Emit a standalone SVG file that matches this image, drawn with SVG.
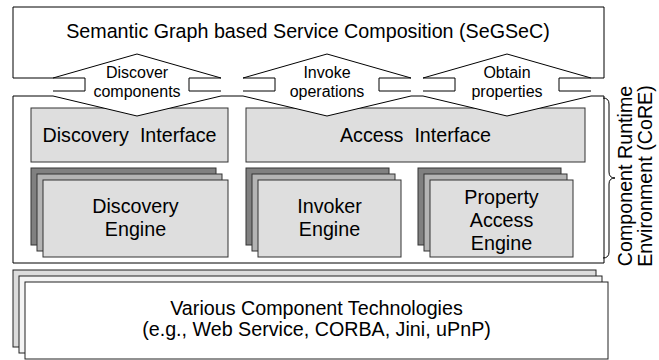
<svg xmlns="http://www.w3.org/2000/svg" width="659" height="360" viewBox="0 0 659 360">
<style>
text{font-family:"Liberation Sans",Arial,sans-serif;fill:#000;text-anchor:middle}
.big{font-size:19.7px}
.sm{font-size:16px}
.ln{fill:none;stroke:#000;stroke-width:1}
.box{fill:#dedede;stroke:#333;stroke-width:1}
.mid{fill:#b4b4b4;stroke:#333;stroke-width:1}
.back{fill:#808080;stroke:#333;stroke-width:1}
.arw{fill:#fff;stroke:none}
</style>
<rect width="659" height="360" fill="#fff"/>
<g id="segsec">
<path class="ln" d="M53,78 H13 V7 H604 V78 H591"/>
<text class="big" x="308" y="38">Semantic Graph based Service Composition (SeGSeC)</text>
</g>
<g id="core">
<path class="ln" d="M53,96 H13 V263 H604 V96 H591 M221,96 H243 M411,96 H423"/>
</g>
<g id="discovery-interface">
<rect class="box" x="31" y="108" width="197" height="54"/>
<text class="big" x="129.5" y="142" xml:space="preserve">Discovery  Interface</text>
</g>
<g id="access-interface">
<rect class="box" x="246" y="108" width="339" height="54"/>
<text class="big" x="415.5" y="142" xml:space="preserve">Access  Interface</text>
</g>
<g id="discovery-engine">
<rect class="back" x="31" y="168" width="185" height="77"/>
<rect class="mid" x="37" y="174" width="185" height="77"/>
<rect class="box" x="43" y="180" width="185" height="77"/>
<text class="big" x="135.5" y="213">Discovery</text>
<text class="big" x="135.5" y="236">Engine</text>
</g>
<g id="invoker-engine">
<rect class="back" x="246" y="168" width="143" height="77"/>
<rect class="mid" x="252" y="174" width="143" height="77"/>
<rect class="box" x="258" y="180" width="143" height="77"/>
<text class="big" x="329.5" y="213">Invoker</text>
<text class="big" x="329.5" y="236">Engine</text>
</g>
<g id="property-access-engine">
<rect class="back" x="418" y="168" width="143" height="77"/>
<rect class="mid" x="424" y="174" width="143" height="77"/>
<rect class="box" x="430" y="180" width="143" height="77"/>
<text class="big" x="501.5" y="204">Property</text>
<text class="big" x="501.5" y="227">Access</text>
<text class="big" x="501.5" y="250">Engine</text>
</g>
<g id="core-label">
<path class="ln" d="M603,98 Q609,98 609,104 V172 Q609,178 615,178 Q609,178 609,184 V252 Q609,258 603,258"/>
<text class="big" transform="translate(632,176) rotate(-90)">Component Runtime</text>
<text class="big" transform="translate(652,176) rotate(-90)">Environment (CoRE)</text>
</g>
<g id="component-technologies">
<rect x="13" y="270" width="583" height="77" fill="#dcdcdc" stroke="#222"/>
<rect x="19" y="276" width="583" height="77" fill="#f4f4f4" stroke="#222"/>
<rect x="25" y="282" width="583" height="77" fill="#fff" stroke="#222"/>
<text class="big" x="316.5" y="315">Various Component Technologies</text>
<text class="big" x="316.5" y="336">(e.g., Web Service, CORBA, Jini, uPnP)</text>
</g>
<g id="connectors">
<g id="arrow-discover">
<polygon class="arw" points="53,78 137,54 221,78 221,96 137,116 53,96"/>
<path class="ln" d="M53,78 L137,54 L221,78 M53,96 L137,116 L221,96 M53,78 H85 V91 H53 M221,78 H189 V91 H221"/>
<text class="sm" x="137" y="78">Discover</text>
<text class="sm" x="137" y="97">components</text>
</g>
<g id="arrow-invoke">
<polygon class="arw" points="243,78 327,54 411,78 411,96 327,116 243,96"/>
<path class="ln" d="M243,78 L327,54 L411,78 M243,96 L327,116 L411,96 M243,78 H275 V91 H243 M411,78 H379 V91 H411"/>
<text class="sm" x="327" y="78">Invoke</text>
<text class="sm" x="327" y="97">operations</text>
</g>
<g id="arrow-obtain">
<polygon class="arw" points="423,78 507,54 591,78 591,96 507,116 423,96"/>
<path class="ln" d="M423,78 L507,54 L591,78 M423,96 L507,116 L591,96 M423,78 H455 V91 H423 M591,78 H559 V91 H591"/>
<text class="sm" x="507" y="78">Obtain</text>
<text class="sm" x="507" y="97">properties</text>
</g>
</g>
</svg>
